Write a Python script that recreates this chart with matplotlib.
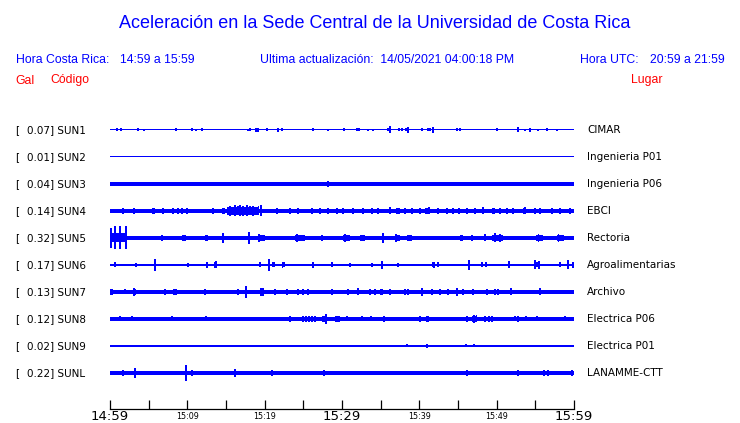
import numpy as np
import matplotlib.pyplot as plt
from matplotlib.transforms import blended_transform_factory

# station info
codes = ["SUN1", "SUN2", "SUN3", "SUN4", "SUN5", "SUN6", "SUN7", "SUN8", "SUN9", "SUNL"]
gal = [0.07, 0.01, 0.04, 0.14, 0.32, 0.17, 0.13, 0.12, 0.02, 0.22]
places = ["CIMAR", "Ingenieria P01", "Ingenieria P06", "EBCI", "Rectoria",
          "Agroalimentarias", "Archivo", "Electrica P06", "Electrica P01", "LANAMME-CTT"]

# background level of each trace (scaled amplitude)
base = [0.5, 0.5, 2.0, 1.8, 2.4, 1.4, 2.2, 1.8, 0.5, 2.1]

# events: (minute after 14:59, scaled amplitude, duration in minutes)
sun1 = [(0.87, 1.5, 0), (1.42, 1.5, 0), (3.66, 1.5, 0), (4.44, 1.2, 0), (8.57, 1.5, 0),
        (10.64, 1.5, 0), (11.16, 1.2, 0), (11.86, 1.5, 0), (17.88, 1.2, 0), (18.14, 1.5, 0),
        (19.0, 2.0, 0.5), (20.34, 1.5, 0), (21.72, 2.0, 0.2), (22.28, 1.5, 0), (26.29, 1.5, 0),
        (28.23, 1.2, 0), (30.3, 1.5, 0), (31.98, 1.5, 0), (32.24, 1.5, 0), (33.4, 1.0, 0),
        (34.05, 1.0, 0), (35.91, 1.5, 0), (36.21, 3.5, 0), (37.41, 1.5, 0), (37.72, 1.5, 0),
        (38.24, 1.5, 0), (38.57, 3.0, 0), (40.31, 1.5, 0), (41.16, 1.5, 0), (41.38, 1.5, 0),
        (41.81, 3.0, 0), (44.91, 1.5, 0), (45.26, 1.5, 0), (50.0, 1.5, 0), (52.8, 2.5, 0),
        (53.7, 1.2, 0), (54.31, 1.8, 0.3), (55.39, 1.2, 0), (56.47, 1.5, 0), (57.77, 1.2, 0)]
sun2 = []
sun3 = [(28.23, 2.8, 0)]
sun4 = [(1.72, 2.8, 0), (3.15, 2.8, 0), (5.6, 2.6, 0.4), (6.9, 2.6, 0), (8.19, 2.8, 0),
        (8.75, 2.6, 0), (9.35, 2.8, 0), (9.91, 2.6, 0), (13.36, 2.6, 0), (14.66, 2.8, 0.3),
        (17.2, 3.8, 4.2), (15.5, 5.0, 0), (16.2, 5.5, 0), (16.5, 4.5, 0), (16.8, 5.5, 0),
        (17.2, 5.0, 0), (17.7, 5.5, 0), (18.1, 4.5, 0), (18.5, 5.0, 0), (19.2, 4.5, 0),
        (19.5, 5.5, 0), (21.6, 3.0, 0.2),
        (23.28, 2.6, 0), (24.35, 2.6, 0), (26.08, 2.8, 0), (27.16, 2.6, 0), (28.23, 2.8, 0),
        (29.31, 2.6, 0), (30.17, 2.6, 0), (31.46, 2.8, 0), (32.76, 2.8, 0), (33.83, 2.6, 0),
        (34.7, 2.8, 0), (36.2, 3.5, 0), (37.28, 2.8, 0.5), (38.14, 2.8, 0), (39.0, 2.8, 0),
        (40.09, 2.6, 0), (41.03, 3.0, 0.6), (41.2, 3.5, 0), (42.46, 2.8, 0), (43.53, 2.6, 0),
        (44.4, 2.8, 0), (45.13, 2.8, 0.3), (46.12, 2.6, 0), (47.2, 2.8, 0), (48.27, 3.5, 0),
        (49.57, 2.8, 0.4), (50.43, 2.8, 0), (51.29, 2.6, 0), (52.15, 2.8, 0), (53.58, 3.0, 0.3),
        (53.7, 3.5, 0), (54.96, 2.8, 0), (55.6, 2.6, 0), (57.11, 2.8, 0), (58.2, 2.6, 0),
        (59.48, 2.8, 0)]
sun5 = [(1.1, 4.5, 2.2), (0.1, 10.0, 0), (0.65, 11.5, 0), (1.34, 11.5, 0), (2.03, 11.5, 0),
        (6.68, 3.3, 0), (9.57, 3.0, 0.6), (12.5, 3.0, 0.4), (14.66, 5.0, 0), (18.02, 5.7, 0),
        (19.61, 3.0, 0.9), (19.3, 3.8, 0), (24.57, 3.0, 1.3), (24.2, 3.8, 0), (27.37, 3.2, 0),
        (30.6, 3.0, 0.9), (30.4, 3.8, 0), (32.67, 3.0, 0.65), (35.26, 4.7, 0),
        (37.15, 3.0, 0.65), (37.0, 3.8, 0), (38.7, 3.0, 0.65), (45.47, 3.0, 0.4), (46.77, 3.2, 0),
        (48.49, 3.5, 0), (50.1, 3.2, 1.5), (49.8, 4.5, 0), (50.4, 4.2, 0), (55.6, 3.0, 0.9),
        (55.4, 3.8, 0), (58.2, 3.0, 0.9), (58.0, 3.8, 0)]
sun6 = [(0.65, 2.5, 0), (3.36, 2.0, 0.3), (5.82, 6.0, 0), (10.13, 2.3, 0), (12.5, 3.0, 0),
        (13.58, 3.0, 0.3), (13.7, 3.5, 0), (19.4, 2.5, 0.3), (20.6, 6.0, 0), (21.12, 2.5, 0.4),
        (22.41, 2.5, 0.4), (22.3, 3.0, 0),
        (26.29, 3.3, 0), (28.66, 2.5, 0), (31.03, 2.3, 0), (33.84, 2.3, 0), (35.21, 4.3, 0),
        (37.28, 2.3, 0), (41.81, 2.5, 0.2), (41.9, 3.0, 0), (42.46, 2.5, 0), (46.47, 4.7, 0),
        (48.06, 2.5, 0), (48.58, 2.5, 0), (51.59, 3.5, 0), (55.26, 2.5, 0.6), (55.0, 4.5, 0),
        (55.5, 4.0, 0), (58.2, 2.5, 0), (59.27, 4.5, 0), (59.9, 3.0, 0)]
sun7 = [(0.22, 3.0, 0.45), (1.94, 2.5, 0), (3.15, 3.0, 0.3), (3.1, 4.0, 0), (7.11, 2.6, 0),
        (8.4, 2.8, 0.4), (8.3, 3.2, 0),
        (12.28, 2.6, 0), (16.6, 2.6, 0), (17.54, 5.7, 0), (19.61, 3.0, 0.45), (19.5, 4.0, 0),
        (19.8, 3.6, 0), (21.34, 2.6, 0),
        (22.84, 3.0, 0), (24.35, 2.8, 0), (25.0, 2.8, 0), (25.65, 2.8, 0), (28.66, 2.8, 0),
        (30.82, 2.6, 0), (32.11, 3.5, 0), (33.62, 2.6, 0), (34.27, 2.6, 0), (35.13, 2.8, 0.4),
        (36.2, 2.6, 0), (38.15, 2.8, 0), (38.58, 2.6, 0), (40.3, 3.7, 0), (41.59, 2.6, 0),
        (42.67, 2.6, 0), (43.75, 2.6, 0), (44.83, 4.0, 0), (45.69, 2.6, 0), (46.98, 2.6, 0),
        (48.71, 2.6, 0), (49.78, 2.6, 0), (50.22, 2.6, 0), (51.81, 3.5, 0), (55.6, 3.5, 0)]
sun8 = [(1.29, 2.5, 0), (2.8, 2.5, 0), (3.66, 2.3, 0), (4.87, 2.3, 0), (7.03, 2.3, 0),
        (7.97, 2.5, 0), (10.56, 2.3, 0), (12.41, 2.5, 0.2), (12.93, 2.3, 0), (17.11, 2.3, 0),
        (21.55, 2.3, 0), (23.28, 2.8, 0.2), (25.0, 2.8, 0.3), (25.3, 3.0, 0), (25.7, 3.0, 0),
        (26.1, 3.0, 0), (26.5, 3.0, 0), (27.89, 4.8, 0),
        (27.6, 3.0, 0.5), (29.4, 2.8, 0.6), (30.69, 2.5, 0), (32.63, 2.5, 0), (33.71, 2.5, 0),
        (35.47, 2.8, 0.3), (38.36, 2.3, 0), (40.09, 2.8, 0.3), (41.03, 3.0, 0.4), (46.12, 2.8, 0.3),
        (47.11, 2.8, 0.7), (47.1, 4.0, 0), (47.4, 3.5, 0), (48.49, 2.8, 0), (49.05, 2.8, 0),
        (49.35, 2.8, 0), (52.37, 2.5, 0),
        (52.8, 2.8, 0), (53.75, 2.5, 0), (55.17, 2.5, 0), (58.84, 2.5, 0)]
sun9 = [(23.28, 1.3, 0), (28.02, 1.3, 0.15), (38.36, 1.5, 0), (41.03, 2.0, 0), (46.03, 1.5, 0),
        (47.07, 1.5, 0), (54.65, 1.3, 0), (56.55, 1.3, 0)]
sunl = [(1.64, 2.5, 0), (3.23, 5.0, 0), (9.78, 8.0, 0), (10.65, 2.8, 0), (16.16, 4.5, 0),
        (20.99, 2.6, 0), (27.72, 3.0, 0), (46.2, 2.6, 0), (52.8, 2.6, 0), (56.12, 2.8, 0),
        (56.68, 2.8, 0), (59.78, 2.8, 0)]
events = [sun1, sun2, sun3, sun4, sun5, sun6, sun7, sun8, sun9, sunl]

tick_minutes = list(range(0, 61, 5))
label_minutes = [0, 10, 20, 30, 40, 50, 60]
label_text = ["14:59", "15:09", "15:19", "15:29", "15:39", "15:49", "15:59"]
big_labels = ["14:59", "15:29", "15:59"]

BLUE = "#0000ff"
RED = "#ff0000"
W, H = 740, 423
SP = 27.0                 # pixels between traces
MIN_W = 1.8 * 60 / 464    # narrowest spike, in minutes

fig = plt.figure(figsize=(W / 100, H / 100), dpi=100)
fig.patch.set_facecolor("white")

# axes box in pixels: x 110..574, y 115..409 (from top)
ax = fig.add_axes([110 / W, (H - 409) / H, 464 / W, (409 - 115) / H])
ax.set_xlim(0, 60)
ax.set_ylim((409 - 130) / SP, (115 - 130) / SP)
for s in ["top", "left", "right"]:
    ax.spines[s].set_visible(False)
ax.spines["bottom"].set_linewidth(0.9)
ax.set_yticks([])
ax.set_xticks(tick_minutes)
ax.set_xticklabels([])
ax.tick_params(axis="x", direction="in", length=6.5, width=0.9, color="black")
ax.patch.set_alpha(0)

for i in range(len(codes)):
    b = base[i] / SP
    ax.fill_between([0, 60], i - b, i + b, color=BLUE, lw=0, antialiased=False)
    for t, a, w in events[i]:
        h = a / SP
        w = max(w, MIN_W)
        ax.fill_between([t - w / 2, t + w / 2], i - h, i + h, color=BLUE, lw=0,
                        antialiased=False)

# station labels
trans = blended_transform_factory(fig.transFigure, ax.transData)
for i in range(len(codes)):
    ax.text(15 / W, i, "[", transform=trans, fontsize=7.5, va="center", ha="left",
            family="DejaVu Sans")
    ax.text(27 / W, i, "%.2f] %s" % (gal[i], codes[i]), transform=trans, fontsize=7.5,
            va="center", ha="left", family="DejaVu Sans")
    ax.text(587 / W, i, places[i], transform=trans, fontsize=7.5, va="center", ha="left",
            family="DejaVu Sans")

# time labels
for m, lbl in zip(label_minutes, label_text):
    fs = 9.5 if lbl in big_labels else 5.8
    ax.annotate(lbl, xy=(m, 0), xycoords=ax.get_xaxis_transform(), xytext=(0, -5.2),
                textcoords="offset points", ha="center", va="center", fontsize=fs,
                family="DejaVu Sans")

# header
hf = "Liberation Sans"
hs = 8.8
fig.text(375 / W, 1 - 23 / H, "Aceleración en la Sede Central de la Universidad de Costa Rica",
         ha="center", va="center", color=BLUE, fontsize=13, family=hf)
fig.text(15.5 / W, 1 - 60 / H, "Hora Costa Rica:", ha="left", va="center", color=BLUE,
         fontsize=hs, family=hf)
fig.text(120.5 / W, 1 - 60 / H, "14:59 a 15:59", ha="left", va="center", color=BLUE,
         fontsize=hs, family=hf)
fig.text(260 / W, 1 - 60 / H, "Ultima actualización:  14/05/2021 04:00:18 PM", ha="left",
         va="center", color=BLUE, fontsize=hs, family=hf)
fig.text(580.5 / W, 1 - 60 / H, "Hora UTC:", ha="left", va="center", color=BLUE,
         fontsize=hs, family=hf)
fig.text(725 / W, 1 - 60 / H, "20:59 a 21:59", ha="right", va="center", color=BLUE,
         fontsize=hs, family=hf)
fig.text(15 / W, 1 - 80.5 / H, "Gal", ha="left", va="center", color=RED, fontsize=hs, family=hf)
fig.text(50 / W, 1 - 80.5 / H, "Código", ha="left", va="center", color=RED, fontsize=hs, family=hf)
fig.text(630.5 / W, 1 - 80.5 / H, "Lugar", ha="left", va="center", color=RED, fontsize=hs,
         family=hf)

fig.savefig("out.png", dpi=100)
